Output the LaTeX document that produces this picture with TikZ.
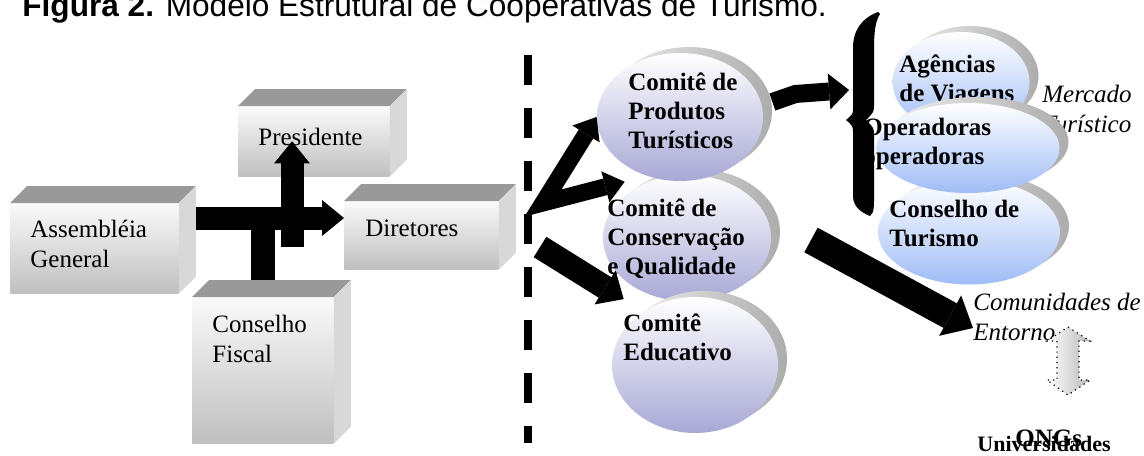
\documentclass[tikz,border=0pt]{standalone}
\usepackage{fontspec}
\setmainfont{Liberation Serif}
\newfontfamily\titlefont{Liberation Sans}
\usetikzlibrary{shapes.geometric,arrows.meta}
\definecolor{lavend}{RGB}{168,168,214}
\definecolor{skyblue}{RGB}{160,188,245}
\definecolor{topgray}{RGB}{153,153,153}
\definecolor{sidegray}{RGB}{216,216,216}

\begin{document}
\begin{tikzpicture}[x=0.5pt, y=-0.5pt,
    boxface/.style={anchor=north west, inner sep=0pt, top color=gray!4, bottom color=gray!50},
    boxtext/.style={anchor=west, inner sep=0pt, align=left, font=\fontsize{12.5}{15}\selectfont},
    comite/.style={ellipse, inner sep=0pt, top color=white, bottom color=lavend,
        preaction={left color=gray!12, right color=gray!65, transform canvas={shift={(4.5pt,3pt)}}}},
    tourism/.style={comite, bottom color=skyblue},
    comtext/.style={anchor=west, inner sep=0pt, align=left, font={\bfseries\fontsize{12.5}{14.5}\selectfont}},
    mkt/.style={anchor=west, inner sep=0pt, align=left, font={\itshape\fontsize{12.5}{15}\selectfont}},
    blk/.style n args={3}{line width=#1, -{Triangle[length=#3, width=#2, line width=0pt]}}
]
    \useasboundingbox (0,0) rectangle (1144,455);

    \node[anchor=base west, inner sep=0pt, font={\titlefont\fontsize{15.8}{18}\selectfont}] (title) at (22,17)
        {\textbf{Figura 2.} Modelo Estrutural de Cooperativas de Turismo.};

    % organs of the cooperative
    \node[boxface, minimum width=75.5pt, minimum height=35pt] (pres) at (238,106) {};
    \node[boxface, minimum width=77pt, minimum height=34pt] (dir) at (344,201) {};
    \node[boxface, minimum width=84pt, minimum height=45pt] (assem) at (10,203) {};
    \node[boxface, minimum width=70.5pt, minimum height=73pt] (cf) at (192,297) {};
    \foreach \b in {pres,dir,assem,cf} {
        \fill[topgray] (\b.north west) -- ([shift={(17,-17)}]\b.north west)
            -- ([shift={(17,-17)}]\b.north east) -- (\b.north east) -- cycle;
        \fill[sidegray] (\b.north east) -- ([shift={(17,-17)}]\b.north east)
            -- ([shift={(17,-17)}]\b.south east) -- (\b.south east) -- cycle;
    }
    \node[boxtext] (prestxt) at (258,137) {Presidente};
    \node[boxtext] (dirtxt) at (365,228) {Diretores};
    \node[boxtext] (assemtxt) at (30,244) {Assembléia\\General};
    \node[boxtext] (cftxt) at (212,339) {Conselho\\Fiscal};

    \coordinate (hub) at (262,218);
    \coordinate (assemside) at ([xshift=8.5pt]assem.east);
    \coordinate (upfoot) at (292,247);
    \draw[blk={11.5pt}{18pt}{11pt}] (assemside |- hub) -- (dir.west |- hub);
    \draw[line width=12pt] ([yshift=8.5pt]cf.north) -- (cf.north |- hub);
    \draw[blk={11.5pt}{18pt}{11pt}] (upfoot) -- (upfoot |- pres.center);

    % divider
    \draw[line width=4pt, dash pattern=on 15pt off 11.5pt] (528,55) -- (528,443);

    % committees
    \node[comite, minimum width=84pt, minimum height=63pt] (ccons) at (687,238) {};
    \node[comtext] (cconstxt) at (607,239) {Comitê de\\Conservação\\e Qualidade};
    \node[comite, minimum width=83pt, minimum height=64pt] (cprod) at (680,117) {};
    \node[comtext] (cprodtxt) at (628,111) {Comitê de\\Produtos\\Turísticos};
    \node[comite, minimum width=83pt, minimum height=68pt] (ceduc) at (695,365) {};
    \node[comtext] (ceductxt) at (623,337) {Comitê\\Educativo};

    \coordinate (fork) at (543,203);
    \coordinate (educfoot) at (540,247);
    \draw[line width=8.5pt, {Triangle[length=10pt, width=16pt, line width=0pt]}-{Triangle[length=10pt, width=16pt, line width=0pt]}]
        (cprod.west) -- (fork) -- ([shift={(-6,-9)}]ccons.140);
    \draw[blk={12pt}{20pt}{11pt}] (educfoot) -- ([shift={(-13,-17)}]ceduc.140);

    % market side
    \node[mkt] (mercado) at (1042,109) {Mercado\\Turístico};
    \node[tourism, minimum width=91pt, minimum height=52.5pt] (conselho) at (969,232) {};
    \node[comtext] (conselhotxt) at (889,223) {Conselho de\\Turismo};
    \node[tourism, minimum width=68.5pt, minimum height=50pt] (agencias) at (961,82) {};
    \node[comtext] (agenciastxt) at (899,81) {Agências\\de Viagens};
    \node[tourism, minimum width=91.5pt, minimum height=45pt] (operad) at (968,148) {};
    \node[comtext] (operadtxt) at (863,144) {Operadoras\\operadoras};

    \fill (878,12) .. controls (862,18) and (853,30) .. (853,48) -- (853,108)
        .. controls (853,114) .. (846,120) .. controls (853,126) .. (853,134) -- (853,196)
        .. controls (853,206) and (860,212) .. (870,216) -- (873,212)
        .. controls (874,206) .. (874,196) -- (874,136) .. controls (874,128) .. (866,120)
        .. controls (874,112) .. (874,104) -- (874,48) .. controls (874,30) and (876,20) .. (880,14) -- cycle;

    \coordinate (bracein) at (849,90);
    \draw[blk={9pt}{18pt}{10pt}] ([shift={(9,-15)}]cprod.east) -- ++(23,-8) -- (bracein);

    \node[mkt] (comun) at (973,317) {Comunidades de\\Entorno};
    \coordinate (diagtail) at (811,240);
    \draw[blk={14pt}{23pt}{13pt}] (diagtail) -- ([yshift=-5.5pt]comun.west);

    \shadedraw[left color=white, right color=gray!55, dotted, line width=0.6pt]
        (1068,327) -- (1090,341) -- (1079,341) -- (1079,380) -- (1090,380) -- (1068,395)
        -- (1047,380) -- (1057,380) -- (1057,341) -- (1047,341) -- cycle;

    \node[anchor=base west, inner sep=0pt, font={\bfseries\fontsize{11}{13}\selectfont}] (univ) at (977,451) {Universidades};
    \node[anchor=base west, inner sep=0pt, font={\bfseries\fontsize{12.5}{15}\selectfont}] (ongs) at (1015,446) {ONGs};
\end{tikzpicture}
\end{document}
